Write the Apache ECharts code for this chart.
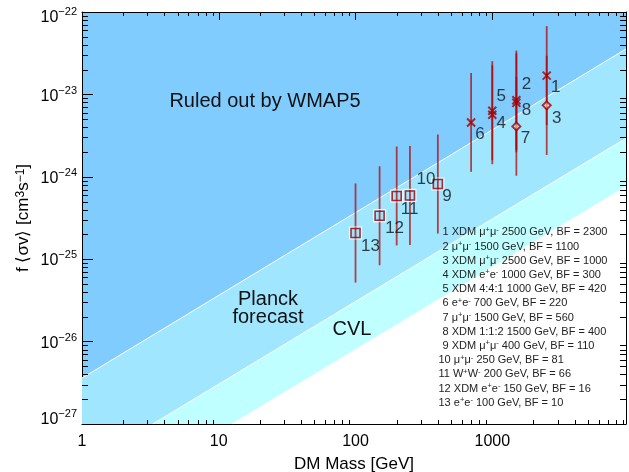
<!DOCTYPE html>
<html>
<head>
<meta charset="utf-8">
<script src="https://cdn.jsdelivr.net/npm/echarts@6/dist/echarts.min.js"></script>
<style>
html,body{margin:0;padding:0;background:#fff;}
#chart{width:629px;height:472px;}
</style>
</head>
<body>
<div id="chart"></div>
<script>
// ---------------- data ----------------
const pointIds   = ['1','2','3','4','5','6','7','8','9','10','11','12','13'];
const massGeV    = [2500, 1500, 2500, 1000, 1000, 700, 1500, 1500, 400, 250, 200, 150, 100];
const sigmaV     = [1.69e-23, 8.5e-24, 7.36e-24, 5.67e-24, 6.34e-24, 4.57e-24, 4.09e-24, 7.9e-24, 8.18e-25, 5.94e-25, 5.85e-25, 3.37e-25, 2.08e-25];
const sigmaLow   = [4.24e-24, 2.13e-24, 1.84e-24, 1.42e-24, 1.59e-24, 1.15e-24, 1.03e-24, 1.98e-24, 2.05e-25, 1.49e-25, 1.47e-25, 8.45e-26, 5.2e-26];
const sigmaHigh  = [6.74e-23, 3.4e-23, 2.94e-23, 2.26e-23, 2.53e-23, 1.82e-23, 1.63e-23, 3.15e-23, 3.26e-24, 2.37e-24, 2.33e-24, 1.34e-24, 8.3e-25];
const markerKind = ['x','x','diamond','x','x','x','diamond','x','square','square','square','square','square'];

// constraint boundaries [mass, f<sigma v>]
const wmapMass   = [1, 9500];
const wmapLimit  = [3.61e-27, 3.56e-23];
const planckMass = [3.29, 9500];
const planckLimit= [1e-27, 2.94e-24];
const cvlMass    = [12.5, 9500];
const cvlLimit   = [1e-27, 7.6e-25];

const legendLines = [
  '1 XDM μ^+μ^- 2500 GeV, BF = 2300',
  '2 μ^+μ^- 1500 GeV, BF = 1100',
  '3 XDM μ^+μ^- 2500 GeV, BF = 1000',
  '4 XDM e^+e^- 1000 GeV, BF = 300',
  '5 XDM 4:4:1 1000 GeV, BF = 420',
  '6 e^+e^- 700 GeV, BF = 220',
  '7 μ^+μ^- 1500 GeV, BF = 560',
  '8 XDM 1:1:2 1500 GeV, BF = 400',
  '9 XDM μ^+μ^- 400 GeV, BF = 110',
  '10 μ^+μ^- 250 GeV, BF = 81',
  '11 W^+W^- 200 GeV, BF = 66',
  '12 XDM e^+e^- 150 GeV, BF = 16',
  '13 e^+e^- 100 GeV, BF = 10'
];
const regionLabels = ['Ruled out by WMAP5', 'Planck\nforecast', 'CVL'];
const xTickValues = [1, 10, 100, 1000];
const xTickLabels = ['1', '10', '100', '1000'];
const yTickExponents = [-27, -26, -25, -24, -23, -22];
const xName = 'DM Mass [GeV]';
const yName = 'f ⟨σv⟩ [cm{s|3}s{s|−1}]';

// ---------------- setup ----------------
const S = 1e27;            // plotting unit: 1e-27 cm^3/s
const X_MIN = 1, X_MAX = 9500;
const Y_MIN = 1, Y_MAX = 1e5;
const FONT = 'Liberation Sans, Arial, Helvetica, sans-serif';
const RED = '#A00000';

const labelOffsets = [[9,12],[10,-16],[10,13],[9,9],[9,-14],[9,12],[9,12],[10,7],[9,12],[16,-16],[13,13],[15,13],[15,13]];
const yLabelShift = [-4.3, 1.7, 1.7, 1.7, 1.7, 5.7];

const minorX = [];
for (let k = 0; k < 4; k++) for (let d = 2; d <= 9; d++) { const v = d * Math.pow(10, k); if (v <= X_MAX) minorX.push([v, Y_MIN]); }
const minorY = [];
for (let k = 0; k < 5; k++) for (let d = 2; d <= 9; d++) minorY.push([X_MIN, d * Math.pow(10, k)]);

function richLegend(str) {
  let out = '', buf = '';
  for (let i = 0; i < str.length; i++) {
    if (str[i] === '^' && i + 1 < str.length) {
      if (buf) { out += '{t|' + buf + '}'; buf = ''; }
      out += '{s|' + (str[i+1] === '-' ? '-' : '+') + '}';
      i++;
    } else buf += str[i];
  }
  if (buf) out += '{t|' + buf + '}';
  return out;
}

const chart = echarts.init(document.getElementById('chart'), null, {renderer: 'canvas'});

const axisCommon = {
  type: 'log', logBase: 10,
  axisLine: {show: true, lineStyle: {color: '#000', width: 1}},
  splitLine: {show: false},
  minorTick: {show: false},
  minorSplitLine: {show: false}
};

const xAxes = [
  Object.assign({}, axisCommon, {
    gridIndex: 0, position: 'bottom', min: X_MIN, max: X_MAX, interval: 1,
    axisTick: {show: true, inside: true, length: 8, lineStyle: {color: '#000'}},
    axisLabel: {
      show: true, margin: 10, fontSize: 16, color: '#000', fontFamily: FONT,
      showMaxLabel: false,
      formatter: function (v) {
        for (let i = 0; i < xTickValues.length; i++) if (Math.abs(v - xTickValues[i]) < 1e-6 * xTickValues[i]) return xTickLabels[i];
        return '';
      }
    },
    name: xName, nameLocation: 'middle', nameGap: 32,
    nameTextStyle: {fontSize: 17, color: '#000', fontFamily: FONT}
  }),
  Object.assign({}, axisCommon, {
    gridIndex: 0, position: 'top', min: X_MIN, max: X_MAX, interval: 1,
    axisTick: {show: true, inside: true, length: 8, lineStyle: {color: '#000'}},
    axisLabel: {show: false}
  })
];

const yAxes = [
  Object.assign({}, axisCommon, {
    gridIndex: 0, position: 'left', min: Y_MIN, max: Y_MAX, interval: 1,
    axisTick: {show: true, inside: true, length: 11, lineStyle: {color: '#000'}},
    axisLabel: {show: false},
    name: yName, nameLocation: 'middle', nameGap: 50, nameRotate: 90,
    nameTextStyle: {fontSize: 17, color: '#000', fontFamily: FONT,
      rich: {s: {fontSize: 12, verticalAlign: 'top', lineHeight: 10, color: '#000', fontFamily: FONT}}}
  }),
  Object.assign({}, axisCommon, {
    gridIndex: 0, position: 'right', min: Y_MIN, max: Y_MAX, interval: 1,
    axisTick: {show: true, inside: true, length: 11, lineStyle: {color: '#000'}},
    axisLabel: {show: false}
  })
];

function boundary(mass, vals, fill) {
  return {
    type: 'line', xAxisIndex: 0, yAxisIndex: 0, silent: true,
    data: mass.map((m, i) => [m, vals[i] * S]),
    showSymbol: false, symbol: 'none', clip: true,
    lineStyle: {color: '#fff', width: 1},
    areaStyle: {color: fill, opacity: 1, origin: 'start'},
    z: 1
  };
}

function idxOf(kind) { const r = []; markerKind.forEach((k, i) => { if (k === kind) r.push(i); }); return r; }

const series = [
  boundary(wmapMass, wmapLimit, '#A0E6FF'),
  boundary(planckMass, planckLimit, '#C0FFFF'),
  boundary(cvlMass, cvlLimit, '#FFFFFF'),
  // minor ticks bottom/top
  {
    type: 'custom', xAxisIndex: 0, yAxisIndex: 0, silent: true, clip: false, z: 5,
    data: minorX,
    renderItem: function (params, api) {
      const cs = params.coordSys;
      const px = Math.round(api.coord([api.value(0), Y_MIN])[0]) + 0.5;
      const yb = cs.y + cs.height, yt = cs.y;
      return {type: 'group', children: [
        {type: 'line', shape: {x1: px, y1: yb, x2: px, y2: yb - 4}, style: {stroke: '#000', lineWidth: 1}},
        {type: 'line', shape: {x1: px, y1: yt, x2: px, y2: yt + 4}, style: {stroke: '#000', lineWidth: 1}}
      ]};
    }
  },
  // minor ticks left/right
  {
    type: 'custom', xAxisIndex: 0, yAxisIndex: 0, silent: true, clip: false, z: 5,
    data: minorY,
    renderItem: function (params, api) {
      const cs = params.coordSys;
      const py = Math.round(api.coord([X_MIN, api.value(1)])[1]) + 0.5;
      const xl = cs.x, xr = cs.x + cs.width;
      return {type: 'group', children: [
        {type: 'line', shape: {x1: xl, y1: py, x2: xl + 6, y2: py}, style: {stroke: '#000', lineWidth: 1}},
        {type: 'line', shape: {x1: xr, y1: py, x2: xr - 6, y2: py}, style: {stroke: '#000', lineWidth: 1}}
      ]};
    }
  },
  // y tick labels (10^n), placed through the y scale
  {
    type: 'custom', xAxisIndex: 0, yAxisIndex: 0, silent: true, clip: false, z: 5,
    data: yTickExponents.map(e => [X_MIN, Math.pow(10, e + 27)]),
    renderItem: function (params, api) {
      const cs = params.coordSys;
      const i = params.dataIndex;
      const py = api.coord([X_MIN, api.value(1)])[1];
      const ex = String(yTickExponents[i]).replace('-', '−');
      return {type: 'text', x: cs.x - 5, y: py + yLabelShift[i],
        style: {
          text: '{b|10}{e|' + ex + '}',
          align: 'right', verticalAlign: 'middle', textAlign: 'right', textVerticalAlign: 'middle',
          rich: {
            b: {fontSize: 16, lineHeight: 22, fontFamily: FONT, fill: '#000'},
            e: {fontSize: 11, lineHeight: 10, verticalAlign: 'top', fontFamily: FONT, fill: '#000'}
          }
        }};
    }
  },
  // error bars
  {
    type: 'custom', xAxisIndex: 0, yAxisIndex: 0, silent: true, z: 6,
    data: massGeV.map((m, i) => [m, sigmaLow[i] * S, sigmaHigh[i] * S]),
    encode: {x: 0, y: [1, 2]},
    renderItem: function (params, api) {
      const x = api.value(0);
      const p1 = api.coord([x, api.value(1)]);
      const p2 = api.coord([x, api.value(2)]);
      return {type: 'line', shape: {x1: p1[0], y1: p1[1], x2: p2[0], y2: p2[1]},
        style: {stroke: 'rgba(180,0,0,0.72)', lineWidth: 1.8}};
    }
  },
  {
    type: 'scatter', xAxisIndex: 0, yAxisIndex: 0, silent: true, z: 7,
    data: idxOf('x').map(i => [massGeV[i], sigmaV[i] * S]),
    symbol: 'path://M0,0L10,10M10,0L0,10', symbolSize: 8,
    itemStyle: {color: 'none', borderColor: RED, borderWidth: 2}
  },
  {
    type: 'scatter', xAxisIndex: 0, yAxisIndex: 0, silent: true, z: 7,
    data: idxOf('diamond').map(i => [massGeV[i], sigmaV[i] * S]),
    symbol: 'diamond', symbolSize: [8, 8],
    itemStyle: {color: 'rgba(255,235,235,0.7)', borderColor: RED, borderWidth: 2}
  },
  {
    type: 'scatter', xAxisIndex: 0, yAxisIndex: 0, silent: true, z: 7,
    data: idxOf('square').map(i => [massGeV[i], sigmaV[i] * S]),
    symbol: 'rect', symbolSize: 12,
    itemStyle: {color: 'rgba(0,0,0,0)', borderColor: '#fff', borderWidth: 1.2}
  },
  {
    type: 'scatter', xAxisIndex: 0, yAxisIndex: 0, silent: true, z: 8,
    data: idxOf('square').map(i => [massGeV[i], sigmaV[i] * S]),
    symbol: 'rect', symbolSize: 9,
    itemStyle: {color: 'rgba(0,0,0,0)', borderColor: RED, borderWidth: 1.6}
  },
  // point number labels
  {
    type: 'scatter', xAxisIndex: 0, yAxisIndex: 0, silent: true, z: 9,
    symbolSize: 1, itemStyle: {color: 'rgba(0,0,0,0)'},
    data: massGeV.map((m, i) => ({
      value: [m, sigmaV[i] * S],
      label: {offset: labelOffsets[i]}
    })),
    label: {
      show: true, position: 'inside', fontSize: 17, color: '#111', fontFamily: FONT,
      formatter: function (p) { return pointIds[p.dataIndex]; }
    }
  }
];

const graphics = [
  {type: 'text', x: 265, y: 101, z: 10, silent: true,
   style: {text: regionLabels[0], fontSize: 20, fontFamily: FONT, fill: '#111', textAlign: 'center', textVerticalAlign: 'middle'}},
  {type: 'text', x: 268, y: 308.5, z: 10, silent: true,
   style: {text: regionLabels[1], fontSize: 20, lineHeight: 17.5, fontFamily: FONT, fill: '#111', textAlign: 'center', textVerticalAlign: 'middle'}},
  {type: 'text', x: 352, y: 329, z: 10, silent: true,
   style: {text: regionLabels[2], fontSize: 20, fontFamily: FONT, fill: '#111', textAlign: 'center', textVerticalAlign: 'middle'}}
];
legendLines.forEach((ln, i) => {
  const twoDigit = /^\d\d /.test(ln);
  graphics.push({
    type: 'text', x: twoDigit ? 438.5 : 442.5, y: 232.3 + 14.2 * i, z: 10, silent: true,
    style: {
      text: richLegend(ln), textAlign: 'left', textVerticalAlign: 'middle',
      rich: {
        t: {fontSize: 11, lineHeight: 13, fontFamily: FONT, fill: '#222'},
        s: {fontSize: 7.5, lineHeight: 8, verticalAlign: 'top', fontFamily: FONT, fill: '#222'}
      }
    }
  });
});

chart.setOption({
  animation: false,
  backgroundColor: '#fff',
  grid: {left: 82, right: 3, top: 12, bottom: 48, show: true, backgroundColor: '#80CCFF', borderWidth: 0,
         containLabel: false, outerBoundsMode: 'none'},
  xAxis: xAxes,
  yAxis: yAxes,
  series: series,
  graphic: graphics
});
</script>
</body>
</html>
